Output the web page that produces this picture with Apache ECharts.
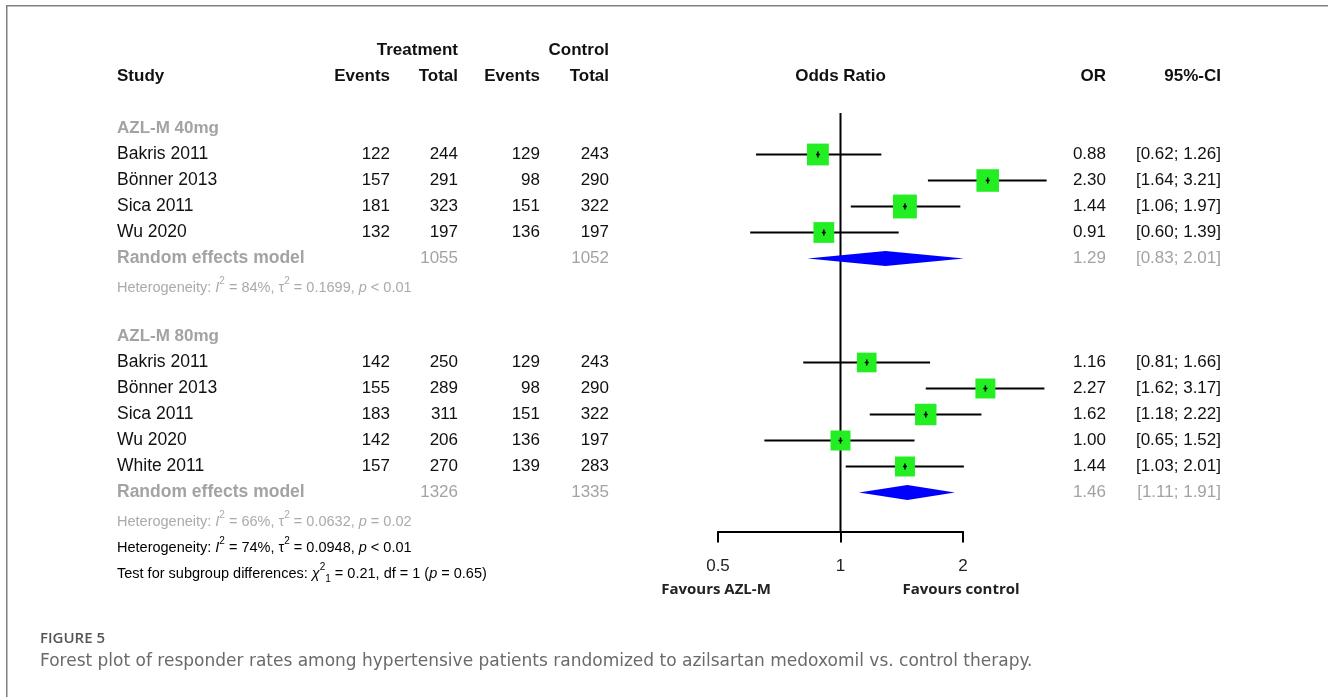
<!DOCTYPE html>
<html><head><meta charset="utf-8">
<script src="https://cdn.jsdelivr.net/npm/echarts@6/dist/echarts.min.js"></script>
<style>html,body{margin:0;padding:0;background:#fff}#c{width:1328px;height:697px}</style>
</head><body><div id="c"></div>
<script>
// ---------------- DATA ----------------
const groupLabels = ['AZL-M 40mg', 'AZL-M 80mg'];

const studies40   = ['Bakris 2011', 'Bönner 2013', 'Sica 2011', 'Wu 2020'];
const trtEvents40 = [122, 157, 181, 132];
const trtTotal40  = [244, 291, 323, 197];
const ctlEvents40 = [129, 98, 151, 136];
const ctlTotal40  = [243, 290, 322, 197];
const or40        = [0.88, 2.30, 1.44, 0.91];
const lo40        = [0.62, 1.64, 1.06, 0.60];
const hi40        = [1.26, 3.21, 1.97, 1.39];
const weight40    = [11.8, 12.6, 14.1, 10.7];

const studies80   = ['Bakris 2011', 'Bönner 2013', 'Sica 2011', 'Wu 2020', 'White 2011'];
const trtEvents80 = [142, 155, 183, 142, 157];
const trtTotal80  = [250, 289, 311, 206, 270];
const ctlEvents80 = [129, 98, 151, 136, 139];
const ctlTotal80  = [243, 290, 322, 197, 283];
const or80        = [1.16, 2.27, 1.62, 1.00, 1.44];
const lo80        = [0.81, 1.62, 1.18, 0.65, 1.03];
const hi80        = [1.66, 3.17, 2.22, 1.52, 2.01];
const weight80    = [9.6, 9.9, 11.4, 9.9, 9.9];

const pooledOR       = [1.29, 1.46];
const pooledLo       = [0.83, 1.11];
const pooledHi       = [2.01, 1.91];
const pooledTrtTotal = [1055, 1326];
const pooledCtlTotal = [1052, 1335];

const hetI2   = [84, 66, 74];
const hetTau2 = ['0.1699', '0.0632', '0.0948'];
const hetP    = ['< 0.01', '= 0.02', '< 0.01'];
const testChi2 = '0.21', testDf = 1, testP = '0.65';

const sideLabels = ['Favours AZL-M', 'Favours control'];
const sideLabelAt = [0.5, 2];

const figureLabel = 'FIGURE 5';
const captionText = 'Forest plot of responder rates among hypertensive patients randomized to azilsartan medoxomil vs. control therapy.';

// ---------------- LAYOUT / STYLE ----------------
const FONT = '"Liberation Sans", Arial, sans-serif';
const BLACK = '#111', GRAY = '#a3a3a3', GREEN = '#22ee22', BLUE = '#0000ff';
const COL = {study: 117, te: 390, tt: 458, ce: 540, ct: 609, or: 1106, ci: 1221};
const SQ = 6.35; // square side per sqrt(weight)

const groups = [
  {label: groupLabels[0], names: studies40, te: trtEvents40, tt: trtTotal40, ce: ctlEvents40, ct: ctlTotal40, or: or40, lo: lo40, hi: hi40, w: weight40, start: 0},
  {label: groupLabels[1], names: studies80, te: trtEvents80, tt: trtTotal80, ce: ctlEvents80, ct: ctlTotal80, or: or80, lo: lo80, hi: hi80, w: weight80, start: 8}
];

const fmt = v => v.toFixed(2);
const items = [];
function T(row, x, text, o) {
  items.push(Object.assign({row, x, text, align: 'right', weight: 'normal', color: BLACK, size: 17, dy: 0}, o || {}));
}
function rich(size, color, weight) {
  const base = {fontSize: size, fontFamily: FONT, fill: color, lineHeight: 22, fontWeight: weight || 'normal'};
  return {
    n: base,
    i: Object.assign({}, base, {fontStyle: 'italic'}),
    s: {fontSize: 10, fontFamily: FONT, fill: color, verticalAlign: 'top', fontWeight: weight || 'normal'},
    b: {fontSize: 10, fontFamily: FONT, fill: color, verticalAlign: 'bottom', lineHeight: 13, fontWeight: weight || 'normal'}
  };
}
function hetText(k) {
  return `{n|Heterogeneity: }{i|I}{s|2}{n| = ${hetI2[k]}%, τ}{s|2}{n| = ${hetTau2[k]}, }{i|p}{n| ${hetP[k]}}`;
}

// headers
T(-3, COL.tt, 'Treatment', {weight: 'bold'});
T(-3, COL.ct, 'Control', {weight: 'bold'});
T(-2, COL.study, 'Study', {weight: 'bold', align: 'left'});
T(-2, COL.te, 'Events', {weight: 'bold'});
T(-2, COL.tt, 'Total', {weight: 'bold'});
T(-2, COL.ce, 'Events', {weight: 'bold'});
T(-2, COL.ct, 'Total', {weight: 'bold'});
T(-2, null, 'Odds Ratio', {weight: 'bold', align: 'center', xVal: 1});
T(-2, COL.or, 'OR', {weight: 'bold'});
T(-2, COL.ci, '95%-CI', {weight: 'bold'});

const marks = [];
groups.forEach((g, k) => {
  T(g.start, COL.study, g.label, {weight: 'bold', align: 'left', color: GRAY});
  g.names.forEach((n, j) => {
    const r = g.start + 1 + j;
    T(r, COL.study, n, {align: 'left', size: 17.5});
    T(r, COL.te, String(g.te[j]));
    T(r, COL.tt, String(g.tt[j]));
    T(r, COL.ce, String(g.ce[j]));
    T(r, COL.ct, String(g.ct[j]));
    T(r, COL.or, fmt(g.or[j]));
    T(r, COL.ci, `[${fmt(g.lo[j])}; ${fmt(g.hi[j])}]`);
    marks.push({kind: 'study', row: r, or: g.or[j], lo: g.lo[j], hi: g.hi[j], w: g.w[j]});
  });
  const pr = g.start + 1 + g.names.length;
  T(pr, COL.study, 'Random effects model', {weight: 'bold', align: 'left', color: GRAY, size: 17.5});
  T(pr, COL.tt, String(pooledTrtTotal[k]), {color: GRAY});
  T(pr, COL.ct, String(pooledCtlTotal[k]), {color: GRAY});
  T(pr, COL.or, fmt(pooledOR[k]), {color: GRAY});
  T(pr, COL.ci, `[${fmt(pooledLo[k])}; ${fmt(pooledHi[k])}]`, {color: GRAY});
  marks.push({kind: 'pooled', row: pr, or: pooledOR[k], lo: pooledLo[k], hi: pooledHi[k], w: 0});
  T(pr + 1, COL.study, hetText(k), {align: 'left', rich: rich(14.5, '#aaaaaa'), dy: 3});
});
T(16, COL.study, hetText(2), {align: 'left', rich: rich(14.5, '#000'), dy: 3});
T(17, COL.study, `{n|Test for subgroup differences: }{i|χ}{s|2}{b|1}{n| = ${testChi2}, df = ${testDf} (}{i|p}{n| = ${testP})}`,
  {align: 'left', rich: rich(14.5, '#000'), dy: 3});

// ---------------- CHART ----------------
const chart = echarts.init(document.getElementById('c'), null, {renderer: 'canvas'});
chart.setOption({
  animation: false,
  backgroundColor: '#fff',
  grid: {left: 718, right: 365, top: 50.5, bottom: 165.5},
  xAxis: {
    type: 'log', logBase: 2, min: 0.5, max: 2, position: 'bottom',
    axisLine: {show: true, onZero: false, lineStyle: {color: '#000', width: 2}},
    axisTick: {show: true, length: 11, lineStyle: {color: '#000', width: 2}},
    axisLabel: {color: '#222', fontSize: 17, fontFamily: FONT, margin: 26},
    splitLine: {show: false}
  },
  yAxis: {type: 'value', inverse: true, min: -3, max: 15.5, show: false},
  graphic: [
    {type: 'line', shape: {x1: 6, y1: 5.75, x2: 1328, y2: 5.75}, style: {stroke: '#808080', lineWidth: 1.5}},
    {type: 'line', shape: {x1: 6.75, y1: 5, x2: 6.75, y2: 697}, style: {stroke: '#808080', lineWidth: 1.5}},
    {type: 'text', x: 40, y: 639, style: {text: figureLabel, fontSize: 15, fontWeight: 600, fontFamily: '"Open Sans", sans-serif', fill: '#555', verticalAlign: 'middle'}},
    {type: 'text', x: 40, y: 662, style: {text: captionText, fontSize: 17, fontFamily: '"DejaVu Sans", sans-serif', fill: '#6a6a6a', verticalAlign: 'middle'}}
  ],
  series: [
    {
      type: 'custom', silent: true, clip: false,
      data: [[1, -0.6, 15.5]],
      renderItem: (params, api) => {
        const a = api.coord([api.value(0), api.value(1)]);
        const b = api.coord([api.value(0), api.value(2)]);
        return {type: 'line', shape: {x1: a[0], y1: a[1], x2: b[0], y2: b[1]}, style: {stroke: '#000', lineWidth: 2}};
      }
    },
    {
      type: 'custom', silent: true, clip: false,
      encode: {x: [0, 1, 2], y: 3},
      data: marks.map(m => [m.or, m.lo, m.hi, m.row, m.w]),
      renderItem: (params, api) => {
        const m = marks[params.dataIndex];
        const c = api.coord([m.or, m.row]);
        const xl = api.coord([m.lo, m.row])[0];
        const xh = api.coord([m.hi, m.row])[0];
        const x = c[0], y = c[1];
        if (m.kind === 'study') {
          const s = SQ * Math.sqrt(m.w);
          return {type: 'group', children: [
            {type: 'line', shape: {x1: xl, y1: y, x2: xh, y2: y}, style: {stroke: '#000', lineWidth: 2}},
            {type: 'rect', shape: {x: x - s / 2, y: y - s / 2, width: s, height: s}, style: {fill: GREEN}},
            {type: 'line', shape: {x1: x, y1: y - 3, x2: x, y2: y + 3}, style: {stroke: '#000', lineWidth: 1.5}},
            {type: 'line', shape: {x1: x - 2, y1: y, x2: x + 2, y2: y}, style: {stroke: '#000', lineWidth: 1.5}}
          ]};
        }
        const h = 7.5;
        return {type: 'polygon', shape: {points: [[xl, y], [x, y - h], [xh, y], [x, y + h]]}, style: {fill: BLUE}};
      }
    },
    {
      type: 'custom', silent: true, clip: false,
      encode: {x: 0, y: 1},
      data: items.map(t => [t.xVal || 1, t.row]),
      renderItem: (params, api) => {
        const t = items[params.dataIndex];
        const p = api.coord([t.xVal || 1, t.row]);
        const x = t.x == null ? p[0] : t.x;
        const style = {text: t.text, align: t.align, verticalAlign: 'middle', fill: t.color,
          fontSize: t.size, fontWeight: t.weight, fontFamily: FONT};
        if (t.rich) style.rich = t.rich;
        return {type: 'text', x: x, y: p[1] + t.dy, style: style};
      }
    },
    {
      type: 'custom', silent: true, clip: false,
      encode: {x: 0, y: 1},
      data: sideLabelAt.map(v => [v, 17.75]),
      renderItem: (params, api) => {
        const p = api.coord([api.value(0), api.value(1)]);
        return {type: 'text', x: p[0] - 2, y: p[1], style: {text: sideLabels[params.dataIndex], align: 'center', verticalAlign: 'middle',
          fill: '#222', fontSize: 15, fontWeight: 'bold', fontFamily: '"Open Sans", sans-serif'}};
      }
    }
  ]
});
</script>
</body></html>
